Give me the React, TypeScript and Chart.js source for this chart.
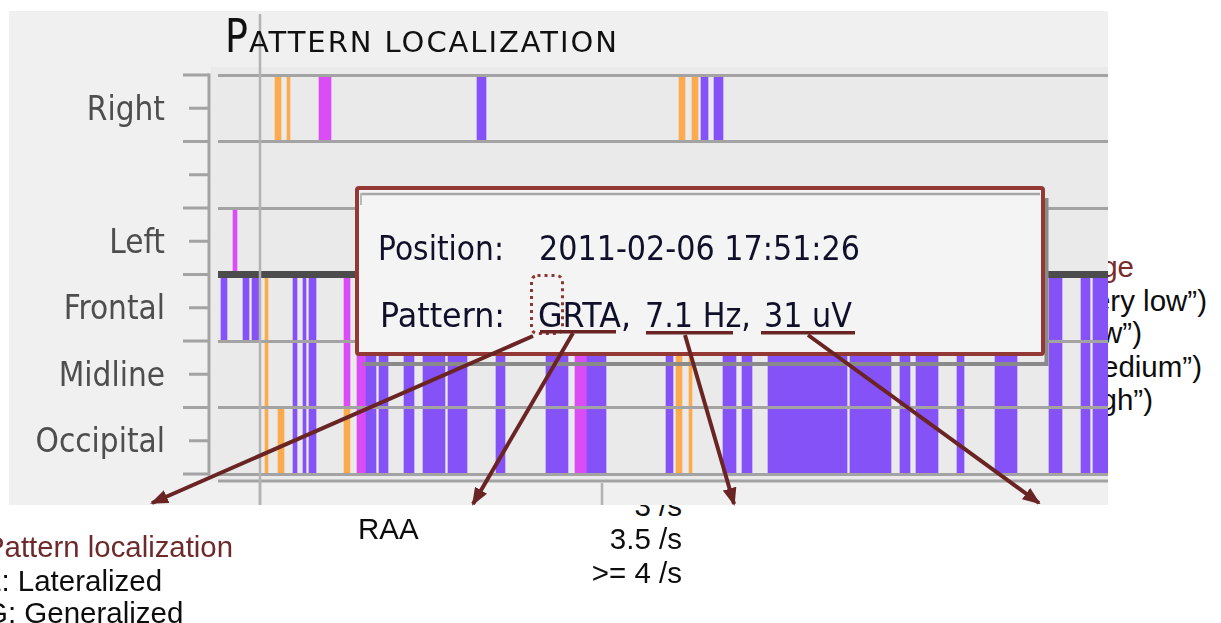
import React, { useEffect, useRef } from 'react';
import { Chart, registerables } from 'chart.js';

Chart.register(...registerables);

// Rows of the localization chart (top to bottom); the second row is an unlabeled spacer row
const rowLabels = ['Right', '', 'Left', 'Frontal', 'Midline', 'Occipital'];

// Detected pattern intervals, [start, end] in seconds from the start of the displayed window
const rightOrange = [[57, 63], [69, 72], [461, 467], [474, 480]];
const rightMagenta = [[101, 113]];
const rightPurple = [[259, 268], [483, 490], [496, 505]];
const leftMagenta = [[15, 19]];
const frontalPurple = [[3, 9], [25, 31], [34, 41]];
const anteriorMagenta = [[126, 132]]; // frontal + midline
const occipitalOrange = [[60, 66], [126, 132]];
// generalized patterns: frontal + midline + occipital
const generalizedPurple = [
  [75, 79], [85, 88], [91, 98], [148, 158], [161, 170], [186, 196], [205, 227], [230, 249],
  [278, 287], [328, 350], [369, 388], [448, 455], [505, 518], [524, 534], [550, 629], [632, 673],
  [682, 692], [698, 720], [739, 746], [777, 799], [831, 844], [863, 872], [875, 892],
];
const generalizedOrange = [[47, 50], [458, 464], [471, 474]];
const generalizedMagenta = [[139, 148], [357, 369]];

const xMin = 0;
const xMax = 890;
const xTickValues = [42, 384];
const cursorValue = 42;

const PURPLE = '#8552f8';
const MAGENTA = '#da4cf6';
const ORANGE = '#fbaa4e';
const GRID = '#a3a3a3';

const generalizedRows = ['Frontal', 'Midline', 'Occipital'];

function toPoints(row: string, intervals: number[][]) {
  return intervals.map(([s, e]) => ({ x: [s, e], y: row }));
}

const decorPlugin = {
  id: 'decor',
  beforeDraw(chart: any) {
    const { ctx, chartArea: a, width, height } = chart;
    ctx.save();
    ctx.fillStyle = '#f0f0f0';
    ctx.fillRect(0, 0, width, height);
    ctx.fillStyle = '#eaeaea';
    ctx.fillRect(a.left - 7, a.top - 8, a.right - a.left + 7, a.bottom - a.top + 15);
    ctx.restore();
  },
  afterDraw(chart: any) {
    const { ctx, chartArea: a, height } = chart;
    const ys = chart.scales.y;
    const xs = chart.scales.x;
    const line = (x1: number, y1: number, x2: number, y2: number) => {
      ctx.beginPath();
      ctx.moveTo(x1, y1);
      ctx.lineTo(x2, y2);
      ctx.stroke();
    };
    ctx.save();
    ctx.strokeStyle = GRID;
    ctx.lineWidth = 3;
    const axisX = a.left - 9;
    line(axisX, a.top - 1.5, axisX, a.bottom + 1.5);
    const n = rowLabels.length;
    for (let i = 0; i <= n; i++) {
      const py = ys.getPixelForValue(i - 0.5);
      line(axisX - 26, py, axisX, py);
    }
    for (let i = 0; i < n; i++) {
      const py = ys.getPixelForValue(i);
      line(axisX - 20, py, axisX, py);
    }
    const by = a.bottom + 7;
    line(a.left, by, a.right, by);
    ctx.strokeStyle = '#b2b2b2';
    ctx.lineWidth = 2.5;
    xTickValues.forEach((v) => {
      const px = xs.getPixelForValue(v);
      line(px, by + 2, px, height);
    });
    const cx = xs.getPixelForValue(cursorValue);
    line(cx, 3, cx, height);
    ctx.restore();
  },
};

const TXT = "'Liberation Sans', Arial, sans-serif";
const UI = "'DejaVu Sans', sans-serif";

export default function App() {
  const ref = useRef<HTMLCanvasElement>(null);

  useEffect(() => {
    const purpleData = [
      ...toPoints('Right', rightPurple),
      ...toPoints('Frontal', frontalPurple),
      ...generalizedRows.flatMap((r) => toPoints(r, generalizedPurple)),
    ];
    const magentaData = [
      ...toPoints('Right', rightMagenta),
      ...toPoints('Left', leftMagenta),
      ...toPoints('Frontal', anteriorMagenta),
      ...toPoints('Midline', anteriorMagenta),
      ...generalizedRows.flatMap((r) => toPoints(r, generalizedMagenta)),
    ];
    const orangeData = [
      ...toPoints('Right', rightOrange),
      ...generalizedRows.flatMap((r) => toPoints(r, generalizedOrange)),
      ...toPoints('Occipital', occipitalOrange),
    ];
    const ds = (label: string, data: any[], color: string) => ({
      label,
      data,
      backgroundColor: color,
      borderWidth: 0,
      borderSkipped: false,
      grouped: false,
      barPercentage: 1,
      categoryPercentage: 1,
    });
    const chart = new Chart(ref.current as HTMLCanvasElement, {
      type: 'bar',
      data: {
        labels: rowLabels,
        datasets: [
          ds('Generalized', purpleData, PURPLE),
          ds('Lateralized', magentaData, MAGENTA),
          ds('Other', orangeData, ORANGE),
        ] as any,
      },
      options: {
        indexAxis: 'y',
        animation: false,
        responsive: false,
        maintainAspectRatio: false,
        layout: { padding: { top: 64, bottom: 31, left: 0, right: 0 } },
        plugins: {
          legend: { display: false },
          tooltip: { enabled: false },
          title: { display: false },
        },
        scales: {
          x: { type: 'linear', min: xMin, max: xMax, display: false },
          y: {
            type: 'category',
            offset: true,
            grid: {
              offset: true,
              drawTicks: true,
              tickLength: 53,
              tickColor: 'rgba(0,0,0,0)',
              z: 1,
              color: (c: any) => (c.index === 3 ? '#4c4c4c' : GRID),
              lineWidth: (c: any) => (c.index === 3 ? 7 : 3),
            },
            border: { display: false },
            ticks: {
              padding: 0,
              labelOffset: 3,
              color: '#4e4e4e',
              font: { family: "'DejaVu Sans Condensed', 'DejaVu Sans', sans-serif", size: 33 },
            },
            afterFit: (s: any) => {
              s.width = 209;
            },
          },
        },
      } as any,
      plugins: [decorPlugin],
    });
    return () => chart.destroy();
  }, []);

  const arrowColor = '#6b2424';
  const arrows = [
    [533, 336, 152, 503],
    [573, 333, 473, 504],
    [685, 335, 734, 504],
    [808, 335, 1039, 503],
  ];

  return (
    <div style={{ position: 'absolute', left: 0, top: 0, width: 1221, height: 623, overflow: 'hidden', background: '#ffffff' }}>
      <svg width={1221} height={623} style={{ position: 'absolute', left: 0, top: 0, zIndex: 0 }}>
        <g fontFamily={TXT} fontSize={29.5} fill="#0d0d0d">
          <text x={1134} y={277} textAnchor="end" fill="#7a2c2c">ge</text>
          <text x={1207} y={311} textAnchor="end">ery low”)</text>
          <text x={1142} y={343} textAnchor="end">w”)</text>
          <text x={1202} y={377} textAnchor="end">edium”)</text>
          <text x={1153} y={410} textAnchor="end">gh”)</text>
          <text x={682} y={516} textAnchor="end">3 /s</text>
        </g>
      </svg>
      <div style={{ position: 'absolute', left: 9, top: 11, width: 1099, height: 494, zIndex: 1, background: '#f0f0f0' }}>
        <canvas ref={ref} width={1099} height={494} style={{ display: 'block' }} />
      </div>
      <svg width={1221} height={623} style={{ position: 'absolute', left: 0, top: 0, zIndex: 2 }}>
        <defs>
          <marker id="ah" viewBox="0 0 18 14" refX="16" refY="7" markerWidth="18" markerHeight="14" markerUnits="userSpaceOnUse" orient="auto">
            <path d="M0,0 L18,7 L0,14 z" fill={arrowColor} />
          </marker>
        </defs>
        {/* title */}
        <g fontFamily={UI} fill="#111111">
          <text x={225} y={52} fontSize={47} textLength={23} lengthAdjust="spacingAndGlyphs">P</text>
          <text x={249} y={52} fontSize={29} textLength={368} lengthAdjust="spacing">ATTERN LOCALIZATION</text>
        </g>
        {/* tooltip */}
        <path d="M363,364 L1046.5,364 L1046.5,198" fill="none" stroke="#8a8a8a" strokeWidth={4} />
        <rect x={357} y={188} width={686} height={166} rx={2} fill="#f4f4f4" stroke="#943835" strokeWidth={4} />
        <line x1={361} y1={194} x2={1040} y2={194} stroke="#a6a6a6" strokeWidth={2.5} />
        <line x1={361} y1={193} x2={361} y2={205} stroke="#b8b8b8" strokeWidth={2} />
        <g fontFamily={UI} fontSize={33} fill="#10102a">
          <text x={378} y={260} textLength={126} lengthAdjust="spacingAndGlyphs">Position:</text>
          <text x={539} y={260} textLength={321} lengthAdjust="spacingAndGlyphs">2011-02-06 17:51:26</text>
          <text x={380} y={327} textLength={125} lengthAdjust="spacingAndGlyphs">Pattern:</text>
          <text x={538} y={327} textLength={93} lengthAdjust="spacingAndGlyphs">GRTA,</text>
          <text x={645} y={327} textLength={106} lengthAdjust="spacingAndGlyphs">7.1 Hz,</text>
          <text x={764} y={327} textLength={88} lengthAdjust="spacingAndGlyphs">31 uV</text>
        </g>
        <rect x={531.5} y={275.5} width={31} height={58} rx={6} fill="none" stroke="#8e3632" strokeWidth={3} strokeDasharray="3 4" />
        <rect x={540} y={330} width={76} height={3.5} fill={arrowColor} />
        <rect x={646} y={331} width={87} height={3.5} fill={arrowColor} />
        <rect x={761} y={331} width={94} height={3.5} fill={arrowColor} />
        {arrows.map(([x1, y1, x2, y2], i) => (
          <line key={i} x1={x1} y1={y1} x2={x2} y2={y2} stroke={arrowColor} strokeWidth={4} markerEnd="url(#ah)" />
        ))}
        {/* slide annotations */}
        <g fontFamily={TXT} fontSize={29.5} fill="#0d0d0d">
          <text x={-15} y={557} fill="#6e2a2a" textLength={248} lengthAdjust="spacingAndGlyphs">Pattern localization</text>
          <text x={-15} y={591}>L: Lateralized</text>
          <text x={-15} y={623}>G: Generalized</text>
          <text x={358} y={539}>RAA</text>
          <text x={682} y={549} textAnchor="end">3.5 /s</text>
          <text x={682} y={583} textAnchor="end">&gt;= 4 /s</text>
        </g>
      </svg>
    </div>
  );
}
